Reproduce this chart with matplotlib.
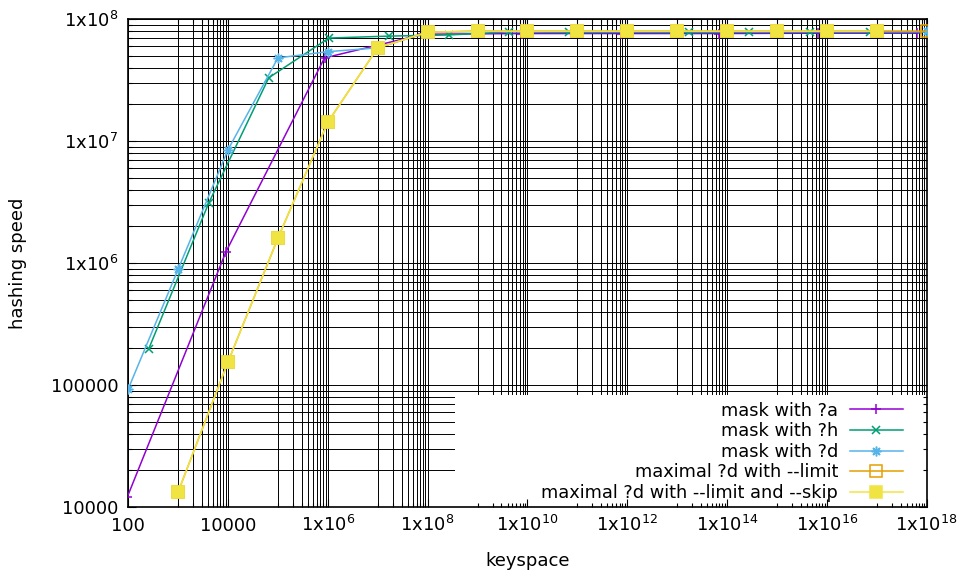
import math
import matplotlib
matplotlib.use("Agg")
import matplotlib.pyplot as plt
from matplotlib.ticker import FixedLocator, FuncFormatter, NullFormatter
from matplotlib.patches import Rectangle

plt.rcParams['font.family'] = ['DejaVu Sans']
plt.rcParams['mathtext.fontset'] = 'dejavusans'

FONT = 13
KEY_FONT = 12.75

# ---- measured hashing speed (H/s) against keyspace size ----
mask_a_keyspace = [95, 9025, 857375, 81450625, 7.74e9, 7.35e11, 6.98e13, 6.63e15, 6.30e17]
mask_a_speed = [1.2e4, 1.23e6, 4.8e7, 7.5e7, 7.6e7, 7.6e7, 7.6e7, 7.65e7, 7.65e7]

mask_h_keyspace = [256, 4096, 65536, 1048576, 16777216, 268435456, 4294967296,
                   6.87e10, 1.10e12, 1.76e13, 2.81e14, 4.50e15, 7.21e16, 1.15e18]
mask_h_speed = [1.97e5, 3.1e6, 3.3e7, 6.98e7, 7.24e7, 7.4e7, 7.85e7,
                7.75e7, 7.8e7, 7.75e7, 7.8e7, 7.8e7, 7.8e7, 7.8e7]

mask_d_keyspace = [1e2, 1e3, 1e4, 1e5, 1e6, 1e7, 1e8, 1e9, 1e10, 1e11, 1e12,
                   1e13, 1e14, 1e15, 1e16, 1e17, 1e18]
mask_d_speed = [9.3e4, 8.9e5, 8.5e6, 4.8e7, 5.4e7, 5.8e7, 7.8e7, 7.9e7, 7.9e7,
                7.9e7, 7.9e7, 7.9e7, 7.9e7, 7.9e7, 7.9e7, 7.9e7, 7.9e7]

limit_keyspace = [1e3, 1e4, 1e5, 1e6, 1e7, 1e8, 1e9, 1e10, 1e11, 1e12, 1e13,
                  1e14, 1e15, 1e16, 1e17, 1e18]
limit_speed = [1.33e4, 1.55e5, 1.6e6, 1.43e7, 5.8e7, 7.8e7, 7.95e7, 7.95e7,
               7.95e7, 7.95e7, 7.95e7, 7.95e7, 7.95e7, 7.95e7, 7.95e7, 7.95e7]

skip_keyspace = [1e3, 1e4, 1e5, 1e6, 1e7, 1e8, 1e9, 1e10, 1e11, 1e12, 1e13,
                 1e14, 1e15, 1e16, 1e17]
skip_speed = [1.33e4, 1.55e5, 1.6e6, 1.43e7, 5.8e7, 7.8e7, 7.95e7, 7.95e7,
              7.95e7, 7.95e7, 7.95e7, 7.95e7, 7.95e7, 7.95e7, 7.95e7]

labels = ["mask with ?a", "mask with ?h", "mask with ?d",
          "maximal ?d with --limit", "maximal ?d with --limit and --skip"]

x_major = [1e2, 1e4, 1e6, 1e8, 1e10, 1e12, 1e14, 1e16, 1e18]
y_major = [1e4, 1e5, 1e6, 1e7, 1e8]

XLIM = (1e2, 1e18)
YLIM = (1e4, 1e8)

# minor tics: 1..9 x 10^odd between the x major tics, 2..9 x 10^n on y
x_minor = [m * 10.0 ** e for e in range(3, 18, 2) for m in range(1, 10)]
y_minor = [m * 10.0 ** e for e in range(4, 8) for m in range(2, 10)]


def sci_label(v, pos=None):
    e = int(round(math.log10(v)))
    if e < 6:
        return str(int(round(v)))
    return r"1x10$^{%d}$" % e


fig = plt.figure(figsize=(9.6, 5.72), dpi=100)
rect = [0.1336, 0.1136, 0.8317, 0.8532]

# underlying axes holding only the grid
axg = fig.add_axes(rect)
axg.set_xscale('log')
axg.set_yscale('log')
axg.set_xlim(*XLIM)
axg.set_ylim(*YLIM)
axg.xaxis.set_major_locator(FixedLocator(x_major))
axg.xaxis.set_minor_locator(FixedLocator(x_minor))
axg.yaxis.set_major_locator(FixedLocator(y_major))
axg.yaxis.set_minor_locator(FixedLocator(y_minor))
axg.grid(which='both', color='black', lw=0.7)
axg.tick_params(which='both', length=0, labelbottom=False, labelleft=False)
for s in axg.spines.values():
    s.set_visible(False)

# main axes with data, ticks and border
ax = fig.add_axes(rect)
ax.patch.set_visible(False)
ax.set_xscale('log')
ax.set_yscale('log')

ax.plot(mask_a_keyspace, mask_a_speed, color='#9400d3', lw=1.1, marker='+',
        ms=7, mew=1.1, label=labels[0], zorder=3)
ax.plot(mask_h_keyspace, mask_h_speed, color='#009e73', lw=1.1, marker='x',
        ms=6, mew=1.1, label=labels[1], zorder=3)
ax.plot(mask_d_keyspace, mask_d_speed, color='#56b4e9', lw=1.1, marker=(8, 2, 0),
        ms=7, mew=1.1, label=labels[2], zorder=3)
ax.plot(limit_keyspace, limit_speed, color='#e69f00', lw=1.1, marker='s',
        ms=8, mew=1.1, mfc='none', label=labels[3], zorder=3)
ax.plot(skip_keyspace, skip_speed, color='#f0e442', lw=1.1, marker='s',
        ms=8, mew=1.1, mfc='#f0e442', label=labels[4], zorder=3)

ax.set_xlim(*XLIM)
ax.set_ylim(*YLIM)
ax.xaxis.set_major_locator(FixedLocator(x_major))
ax.xaxis.set_minor_locator(FixedLocator(x_minor))
ax.yaxis.set_major_locator(FixedLocator(y_major))
ax.yaxis.set_minor_locator(FixedLocator(y_minor))
ax.xaxis.set_major_formatter(FuncFormatter(sci_label))
ax.yaxis.set_major_formatter(FuncFormatter(sci_label))
ax.xaxis.set_minor_formatter(NullFormatter())
ax.yaxis.set_minor_formatter(NullFormatter())
ax.tick_params(which='both', direction='in', top=True, right=True,
               color='black', width=0.8, labelsize=FONT)
ax.tick_params(which='major', length=6)
ax.tick_params(which='minor', length=3)
ax.tick_params(axis='x', which='major', pad=17)
ax.tick_params(axis='y', which='major', pad=7)
for lab in ax.get_xticklabels():
    lab.set_va('baseline')
for s in ax.spines.values():
    s.set_linewidth(1.2)

# opaque key area
ax.add_patch(Rectangle((0.409, 0.0), 0.591, 0.2295, transform=ax.transAxes,
                       facecolor='white', edgecolor='none', zorder=1))

leg = ax.legend(loc='lower right', bbox_to_anchor=(0.970, 0.010),
                frameon=False, markerfirst=False, fontsize=KEY_FONT,
                handlelength=2.98, handletextpad=0.67, labelspacing=0.15,
                borderpad=0, borderaxespad=0)

ax.set_xlabel("keyspace", fontsize=FONT)
ax.set_ylabel("hashing speed", fontsize=FONT)
ax.xaxis.set_label_coords(0.5, -0.1107)
ax.yaxis.set_label_coords(-0.138, 0.5)
ax.xaxis.label.set_va('center')
ax.yaxis.label.set_va('center')

fig.savefig("out.png", dpi=100)
